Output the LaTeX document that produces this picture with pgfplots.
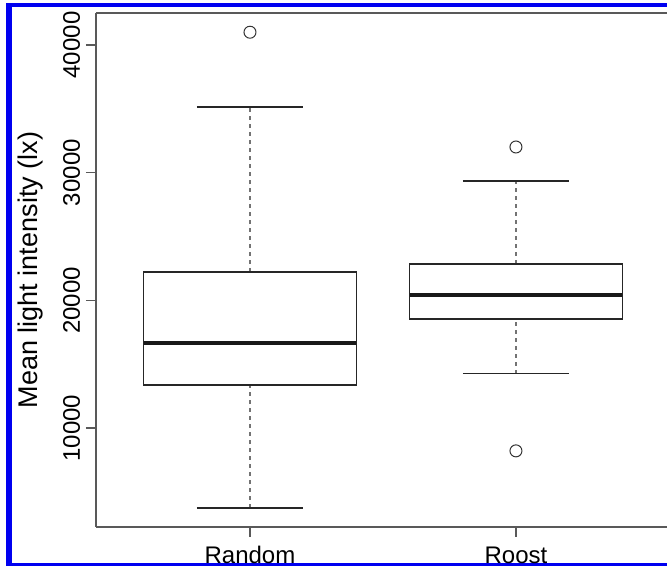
\documentclass[border=0pt]{standalone}
\usepackage{fontspec}
\setmainfont{Liberation Sans}
\usepackage{pgfplots}
\pgfplotsset{compat=1.18}
\usepgfplotslibrary{statistics}
\definecolor{frameblue}{RGB}{0,0,240}
\begin{document}
\begin{tikzpicture}
\useasboundingbox (0,0) rectangle (333.5pt,283pt);
\fill[white] (0,0) rectangle (333.5pt,283pt);
\fill[frameblue] (3pt,0) rectangle (6pt,281.5pt);
\fill[frameblue] (3pt,279.5pt) rectangle (333.5pt,281.5pt);
\fill[frameblue] (3pt,0) rectangle (333.5pt,1.5pt);
% values in thousands of lx
\begin{axis}[
  at={(48pt,19.5pt)}, anchor=south west,
  scale only axis, width=285.5pt, height=257pt,
  xmin=0.421, xmax=2.568, ymin=2.247, ymax=42.506,
  axis x line*=bottom, axis y line*=left,
  axis line style={black!65, line width=0.6pt},
  every tick/.style={black!65, line width=0.6pt},
  tick align=outside, major tick length=5pt,
  xtick={1,2}, xticklabels={Random,Roost},
  ytick={10,20,30,40}, yticklabels={10000,20000,30000,40000},
  tick label style={font=\fontsize{12}{14}\selectfont},
  yticklabel style={xshift=-3pt, rotate=90, anchor=base, inner sep=0pt},
  xticklabel style={yshift=-13pt, anchor=base, inner sep=0pt},
  ylabel={Mean light intensity (lx)},
  ylabel style={at={([xshift=-29pt]axis description cs:0,0.5)}, anchor=base, inner sep=0pt, font=\fontsize{13.5}{16}\selectfont},
  clip=false,
  boxplot/draw direction=y,
  boxplot/every box/.style={draw=black!85, line width=0.6pt},
  boxplot/every median/.style={draw=black!90, line width=1.6pt},
  boxplot/draw/lower whisker/.code={
    \draw[black!55, line width=0.6pt, dash pattern=on 2pt off 2pt] (boxplot box cs:\pgfplotsboxplotvalue{lower whisker},0.5) -- (boxplot box cs:\pgfplotsboxplotvalue{lower quartile},0.5);
    \draw[black!85, line width=0.6pt] (boxplot whisker cs:\pgfplotsboxplotvalue{lower whisker},0) -- (boxplot whisker cs:\pgfplotsboxplotvalue{lower whisker},1);
  },
  boxplot/draw/upper whisker/.code={
    \draw[black!55, line width=0.6pt, dash pattern=on 2pt off 2pt] (boxplot box cs:\pgfplotsboxplotvalue{upper quartile},0.5) -- (boxplot box cs:\pgfplotsboxplotvalue{upper whisker},0.5);
    \draw[black!85, line width=0.6pt] (boxplot whisker cs:\pgfplotsboxplotvalue{upper whisker},0) -- (boxplot whisker cs:\pgfplotsboxplotvalue{upper whisker},1);
  },
]
\addplot[black, mark=o, mark size=3pt, mark options={black!80, line width=0.5pt},
  boxplot prepared={draw position=1, lower whisker=3.74, lower quartile=13.37,
    median=16.66, upper quartile=22.22, upper whisker=35.15,
    box extend=0.8, whisker extend=0.4}]
  table[row sep=\\, y index=0] {data\\ 41.0\\};
\addplot[black, mark=o, mark size=3pt, mark options={black!80, line width=0.5pt},
  boxplot prepared={draw position=2, lower whisker=14.24, lower quartile=18.54,
    median=20.42, upper quartile=22.85, upper whisker=29.35,
    box extend=0.8, whisker extend=0.4}]
  table[row sep=\\, y index=0] {data\\ 8.21\\ 32.01\\};
\draw[black!65, line width=0.6pt] (rel axis cs:0,1) -- (rel axis cs:1,1);
\end{axis}
\end{tikzpicture}
\end{document}
